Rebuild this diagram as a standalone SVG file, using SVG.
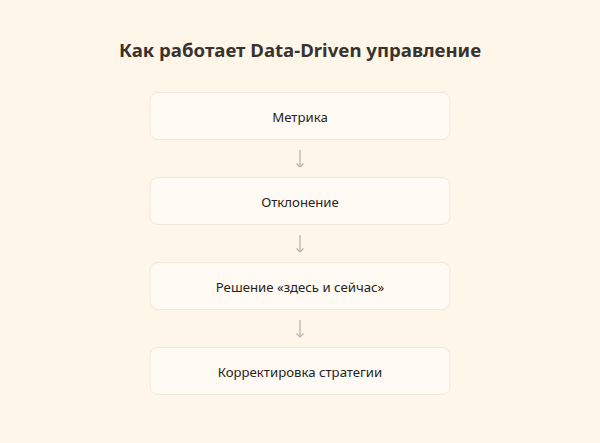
<svg xmlns="http://www.w3.org/2000/svg" width="600" height="443" viewBox="0 0 600 443">
<style>
.bg{fill:#fdf6e9}
.box{fill:#fffaf3;stroke:#f1e7d8;stroke-width:1}
.lbl{font-family:"Noto Sans","Open Sans",sans-serif;font-size:13.2px;fill:#262420;text-anchor:middle;dominant-baseline:central}
.title{font-family:"Noto Sans","Open Sans",sans-serif;font-size:18.6px;font-weight:700;fill:#38332e;text-anchor:middle;dominant-baseline:central}
.arr{stroke:#b8b0a3;stroke-width:1.2;fill:none}
</style>
<rect class="bg" x="0" y="0" width="600" height="443"/>
<text class="title" x="300" y="49">Как работает Data-Driven управление</text>
<g id="connectors">
<line class="arr" x1="300" y1="150" x2="300" y2="167"/>
<path class="arr" d="M296.5,163.5 L300,167 L303.5,163.5"/>
<line class="arr" x1="300" y1="235" x2="300" y2="252"/>
<path class="arr" d="M296.5,248.5 L300,252 L303.5,248.5"/>
<line class="arr" x1="300" y1="320" x2="300" y2="337"/>
<path class="arr" d="M296.5,333.5 L300,337 L303.5,333.5"/>
</g>
<g id="n1"><rect class="box" x="150" y="92.5" width="300" height="47" rx="8"/><text class="lbl" x="300" y="117">Метрика</text></g>
<g id="n2"><rect class="box" x="150" y="177.5" width="300" height="47" rx="8"/><text class="lbl" x="300" y="202">Отклонение</text></g>
<g id="n3"><rect class="box" x="150" y="262.5" width="300" height="47" rx="8"/><text class="lbl" x="300" y="287">Решение «здесь и сейчас»</text></g>
<g id="n4"><rect class="box" x="150" y="347.5" width="300" height="47" rx="8"/><text class="lbl" x="300" y="372">Корректировка стратегии</text></g>
</svg>
